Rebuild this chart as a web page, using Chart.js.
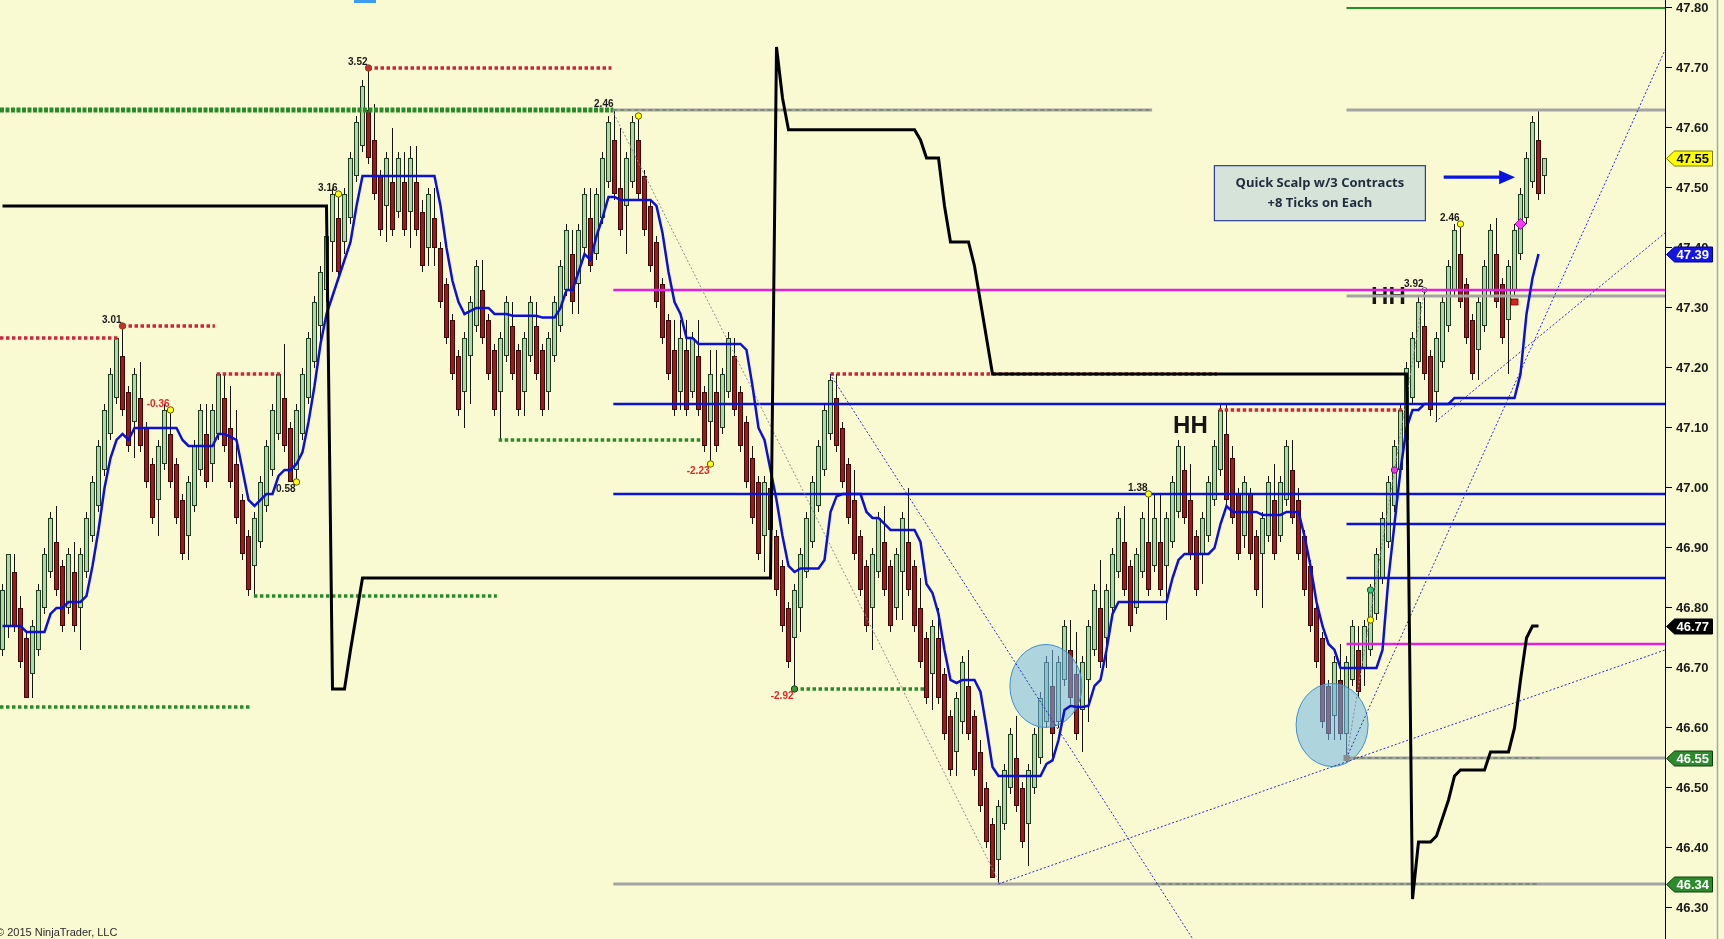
<!DOCTYPE html>
<html>
<head>
<meta charset="utf-8">
<title>Crude chart</title>
<script src="https://cdn.jsdelivr.net/npm/chart.js@4.4.1/dist/chart.umd.min.js"></script>
<style>
html,body{margin:0;padding:0;background:#fafad2;overflow:hidden;}
#wrap{position:relative;width:1724px;height:939px;}
</style>
</head>
<body>
<div id="wrap"><canvas id="chart"></canvas></div>
<script>
// ---------------- DATA (bar index 0..257) ----------------
const opens = [
46.73,46.77,46.86,46.80,46.75,46.69,46.73,46.80,46.86,46.91,
46.87,46.80,46.86,46.80,46.86,46.92,46.97,47.03,47.09,47.15,
47.22,47.16,47.11,47.15,47.10,47.04,46.98,47.04,47.09,47.04,
46.98,46.92,46.97,47.03,47.09,47.04,47.09,47.15,47.10,47.04,
46.98,46.92,46.87,46.91,46.97,47.03,47.09,47.15,47.10,47.03,
47.09,47.15,47.21,47.27,47.33,47.41,47.45,47.41,47.45,47.52,
47.57,47.63,47.58,47.52,47.47,47.51,47.46,47.51,47.46,47.51,
47.46,47.40,47.45,47.40,47.34,47.28,47.22,47.16,47.22,47.27,
47.33,47.28,47.23,47.16,47.22,47.27,47.23,47.16,47.22,47.27,
47.23,47.16,47.22,47.27,47.33,47.39,47.34,47.40,47.45,47.39,
47.45,47.51,47.58,47.50,47.47,47.51,47.58,47.52,47.47,47.41,
47.34,47.28,47.23,47.16,47.23,47.16,47.22,47.16,47.11,47.16,
47.10,47.16,47.22,47.16,47.11,47.05,47.01,46.92,47.00,46.92,
46.87,46.80,46.75,46.80,46.86,46.91,46.97,47.03,47.09,47.15,
47.10,47.04,46.98,46.92,46.87,46.80,46.86,46.91,46.87,46.80,
46.86,46.91,46.87,46.80,46.75,46.69,46.75,46.69,46.62,46.56,
46.61,46.67,46.62,46.56,46.50,46.44,46.38,46.44,46.50,46.55,
46.50,46.44,46.50,46.55,46.61,46.67,46.61,46.68,46.73,46.69,
46.63,46.68,46.73,46.80,46.75,46.80,46.86,46.91,46.87,46.80,
46.86,46.91,46.87,46.91,46.87,46.91,46.96,47.03,46.98,46.92,
46.89,46.92,46.98,47.03,47.09,47.05,46.99,46.92,46.99,46.92,
46.89,46.92,46.98,46.92,46.98,47.03,46.98,46.92,46.87,46.80,
46.75,46.67,46.62,46.68,46.59,46.68,46.73,46.70,46.73,46.79,
46.85,46.91,46.97,47.03,47.08,47.15,47.21,47.27,47.22,47.16,
47.21,47.27,47.33,47.39,47.34,47.28,47.23,47.27,47.33,47.39,
47.34,47.28,47.33,47.39,47.45,47.51,47.58,47.52
];
const highs = [
46.84,46.89,46.89,46.82,46.76,46.78,46.84,46.90,46.96,46.97,
46.88,46.90,46.91,46.90,46.96,47.02,47.08,47.14,47.20,47.25,
47.27,47.17,47.20,47.21,47.11,47.05,47.08,47.14,47.13,47.05,
46.99,47.02,47.08,47.14,47.14,47.14,47.19,47.19,47.17,47.13,
46.99,46.93,46.96,47.02,47.08,47.14,47.19,47.24,47.11,47.14,
47.20,47.26,47.32,47.37,47.43,47.50,47.49,47.50,47.56,47.62,
47.68,47.70,47.64,47.53,47.56,47.60,47.56,47.56,47.57,47.57,
47.48,47.50,47.50,47.41,47.35,47.29,47.23,47.26,47.32,47.38,
47.38,47.29,47.24,47.26,47.32,47.31,47.24,47.26,47.32,47.31,
47.24,47.26,47.32,47.38,47.44,47.43,47.44,47.50,47.50,47.50,
47.56,47.62,47.63,47.60,47.56,47.62,47.62,47.53,47.48,47.42,
47.35,47.29,47.28,47.28,47.28,47.26,47.28,47.17,47.23,47.23,
47.20,47.26,47.25,47.17,47.12,47.07,47.02,47.02,47.01,46.93,
46.88,46.81,46.84,46.90,46.96,47.02,47.08,47.14,47.19,47.19,
47.11,47.05,47.03,46.93,46.88,46.90,46.96,46.97,46.88,46.90,
46.96,47.00,46.88,46.85,46.76,46.78,46.80,46.70,46.63,46.66,
46.72,46.73,46.63,46.58,46.51,46.45,46.48,46.54,46.60,46.62,
46.51,46.54,46.60,46.66,46.72,46.73,46.72,46.78,46.78,46.76,
46.72,46.78,46.84,46.88,46.84,46.90,46.96,46.97,46.88,46.90,
46.96,46.99,46.99,46.99,46.96,47.02,47.08,47.07,47.04,46.93,
46.96,47.02,47.08,47.14,47.14,47.07,47.00,47.02,47.00,46.93,
46.96,47.02,47.04,47.02,47.08,47.08,47.00,46.93,46.88,46.81,
46.76,46.68,46.72,46.74,46.72,46.78,46.77,46.78,46.84,46.90,
46.96,47.02,47.08,47.14,47.21,47.26,47.32,47.33,47.23,47.26,
47.32,47.38,47.44,47.44,47.35,47.29,47.32,47.38,47.44,47.45,
47.35,47.38,47.44,47.50,47.56,47.62,47.63,47.55
];
const lows = [
46.72,46.75,46.76,46.70,46.65,46.65,46.72,46.79,46.85,46.82,
46.76,46.79,46.76,46.73,46.85,46.91,46.96,47.02,47.08,47.14,
47.12,47.06,47.05,47.06,47.00,46.94,46.92,47.03,47.00,46.94,
46.88,46.88,46.96,47.02,47.00,47.01,47.08,47.06,47.00,46.94,
46.88,46.82,46.82,46.90,46.96,47.02,47.08,47.06,47.01,47.01,
47.08,47.14,47.20,47.23,47.31,47.36,47.35,47.39,47.44,47.51,
47.56,47.54,47.48,47.42,47.41,47.42,47.45,47.42,47.40,47.42,
47.36,47.37,47.37,47.30,47.24,47.18,47.12,47.10,47.14,47.26,
47.24,47.18,47.12,47.08,47.21,47.18,47.12,47.12,47.21,47.18,
47.12,47.13,47.21,47.26,47.32,47.29,47.29,47.39,47.36,47.38,
47.44,47.50,47.48,47.42,47.39,47.50,47.48,47.42,47.36,47.30,
47.24,47.18,47.12,47.13,47.12,47.15,47.12,47.06,47.04,47.06,
47.09,47.15,47.12,47.06,47.00,46.94,46.88,46.86,46.92,46.82,
46.76,46.70,46.665,46.76,46.85,46.90,46.96,47.02,47.08,47.06,
47.00,46.94,46.88,46.82,46.76,46.73,46.85,46.82,46.76,46.78,
46.78,46.82,46.76,46.70,46.64,46.63,46.64,46.58,46.52,46.52,
46.59,46.58,46.52,46.46,46.40,46.35,46.34,46.43,46.49,46.46,
46.40,46.37,46.49,46.54,46.60,46.55,46.60,46.67,46.64,46.58,
46.56,46.61,46.72,46.70,46.70,46.79,46.85,46.82,46.76,46.79,
46.85,46.82,46.86,46.82,46.78,46.90,46.95,46.94,46.88,46.82,
46.84,46.91,46.97,47.02,46.97,46.94,46.88,46.90,46.88,46.82,
46.80,46.91,46.88,46.91,46.97,46.94,46.88,46.82,46.76,46.70,
46.60,46.58,46.58,46.58,46.55,46.67,46.65,46.67,46.72,46.78,
46.84,46.90,46.96,47.02,47.07,47.14,47.20,47.18,47.12,47.11,
47.20,47.26,47.32,47.30,47.24,47.18,47.18,47.26,47.32,47.30,
47.24,47.19,47.32,47.38,47.44,47.50,47.48,47.49
];
const closes = [
46.83,46.89,46.77,46.71,46.65,46.77,46.83,46.89,46.95,46.83,
46.77,46.89,46.77,46.89,46.95,47.01,47.07,47.13,47.19,47.25,
47.13,47.07,47.19,47.07,47.01,46.95,47.07,47.13,47.01,46.95,
46.89,47.01,47.07,47.13,47.01,47.13,47.19,47.07,47.01,46.95,
46.89,46.83,46.95,47.01,47.07,47.13,47.19,47.07,47.01,47.13,
47.19,47.25,47.31,47.36,47.42,47.49,47.36,47.49,47.55,47.61,
47.67,47.55,47.49,47.43,47.55,47.43,47.55,47.43,47.55,47.43,
47.37,47.49,47.40,47.31,47.25,47.19,47.13,47.25,47.31,47.37,
47.25,47.19,47.13,47.25,47.31,47.19,47.13,47.25,47.31,47.19,
47.13,47.25,47.31,47.37,47.43,47.31,47.43,47.49,47.37,47.49,
47.55,47.61,47.49,47.43,47.55,47.61,47.49,47.43,47.37,47.31,
47.25,47.19,47.13,47.25,47.13,47.25,47.13,47.07,47.19,47.07,
47.19,47.25,47.13,47.07,47.01,46.95,46.89,47.01,46.93,46.83,
46.77,46.71,46.83,46.89,46.95,47.01,47.07,47.13,47.18,47.07,
47.01,46.95,46.89,46.83,46.77,46.89,46.95,46.83,46.77,46.89,
46.95,46.83,46.77,46.71,46.65,46.77,46.65,46.59,46.53,46.65,
46.71,46.59,46.53,46.47,46.41,46.35,46.47,46.53,46.59,46.47,
46.41,46.53,46.59,46.65,46.71,46.59,46.71,46.77,46.65,46.59,
46.71,46.77,46.83,46.71,46.83,46.89,46.95,46.83,46.77,46.89,
46.95,46.83,46.95,46.83,46.95,47.01,47.07,46.95,46.89,46.83,
46.95,47.01,47.07,47.13,46.98,46.95,46.89,47.01,46.89,46.83,
46.95,47.01,46.89,47.01,47.07,46.95,46.89,46.83,46.77,46.71,
46.61,46.59,46.71,46.59,46.71,46.77,46.66,46.77,46.83,46.89,
46.95,47.01,47.07,47.13,47.20,47.25,47.31,47.19,47.13,47.25,
47.31,47.37,47.43,47.31,47.25,47.19,47.31,47.37,47.43,47.31,
47.25,47.37,47.43,47.49,47.55,47.61,47.49,47.55
];
// blue moving average (bar 0..256)
const blueAvg = [
46.77,46.77,46.77,46.77,46.76,46.76,46.76,46.76,46.79,46.80,
46.80,46.81,46.81,46.81,46.82,46.87,46.93,47.00,47.05,47.08,
47.09,47.08,47.10,47.10,47.10,47.10,47.10,47.10,47.10,47.10,
47.08,47.07,47.07,47.07,47.07,47.07,47.09,47.09,47.085,47.08,
47.03,46.98,46.97,46.98,46.99,46.99,47.02,47.03,47.03,47.04,
47.06,47.11,47.17,47.24,47.29,47.32,47.35,47.38,47.41,47.47,
47.52,47.52,47.52,47.52,47.52,47.52,47.52,47.52,47.52,47.52,
47.52,47.52,47.52,47.47,47.40,47.345,47.31,47.29,47.295,47.30,
47.30,47.30,47.29,47.29,47.29,47.287,47.287,47.287,47.287,47.287,
47.284,47.284,47.284,47.30,47.33,47.33,47.36,47.39,47.38,47.42,
47.45,47.485,47.485,47.48,47.48,47.48,47.48,47.48,47.48,47.47,
47.425,47.36,47.31,47.29,47.25,47.25,47.24,47.24,47.24,47.24,
47.24,47.24,47.24,47.24,47.23,47.17,47.10,47.08,47.03,46.98,
46.92,46.87,46.86,46.866,46.866,46.866,46.866,46.88,46.96,46.986,
46.99,46.99,46.99,46.99,46.96,46.95,46.95,46.94,46.93,46.93,
46.93,46.93,46.93,46.91,46.84,46.825,46.79,46.73,46.68,46.675,
46.68,46.68,46.68,46.66,46.60,46.535,46.52,46.52,46.52,46.52,
46.52,46.52,46.52,46.52,46.54,46.546,46.58,46.63,46.637,46.635,
46.635,46.637,46.67,46.68,46.73,46.79,46.81,46.81,46.81,46.81,
46.81,46.81,46.81,46.81,46.81,46.85,46.88,46.89,46.89,46.89,
46.89,46.89,46.90,46.94,46.97,46.96,46.96,46.96,46.96,46.96,
46.955,46.955,46.955,46.955,46.96,46.96,46.96,46.92,46.87,46.81,
46.77,46.74,46.73,46.70,46.70,46.70,46.70,46.70,46.70,46.70,
46.73,46.85,46.94,47.03,47.10,47.13,47.13,47.14,47.14,47.14,
47.14,47.14,47.15,47.15,47.15,47.15,47.15,47.15,47.15,47.15,
47.15,47.15,47.15,47.19,47.29,47.35,47.39
];
// black step indicator (bar 0..256)
const blackLine = [
47.47,47.47,47.47,47.47,47.47,47.47,47.47,47.47,47.47,47.47,
47.47,47.47,47.47,47.47,47.47,47.47,47.47,47.47,47.47,47.47,
47.47,47.47,47.47,47.47,47.47,47.47,47.47,47.47,47.47,47.47,
47.47,47.47,47.47,47.47,47.47,47.47,47.47,47.47,47.47,47.47,
47.47,47.47,47.47,47.47,47.47,47.47,47.47,47.47,47.47,47.47,
47.47,47.47,47.47,47.47,47.47,46.665,46.665,46.665,46.73,46.79,
46.85,46.85,46.85,46.85,46.85,46.85,46.85,46.85,46.85,46.85,
46.85,46.85,46.85,46.85,46.85,46.85,46.85,46.85,46.85,46.85,
46.85,46.85,46.85,46.85,46.85,46.85,46.85,46.85,46.85,46.85,
46.85,46.85,46.85,46.85,46.85,46.85,46.85,46.85,46.85,46.85,
46.85,46.85,46.85,46.85,46.85,46.85,46.85,46.85,46.85,46.85,
46.85,46.85,46.85,46.85,46.85,46.85,46.85,46.85,46.85,46.85,
46.85,46.85,46.85,46.85,46.85,46.85,46.85,46.85,46.85,47.735,
47.65,47.597,47.597,47.597,47.597,47.597,47.597,47.597,47.597,47.597,
47.597,47.597,47.597,47.597,47.597,47.597,47.597,47.597,47.597,47.597,
47.597,47.597,47.597,47.58,47.55,47.55,47.55,47.47,47.41,47.41,
47.41,47.41,47.37,47.31,47.25,47.19,47.19,47.19,47.19,47.19,
47.19,47.19,47.19,47.19,47.19,47.19,47.19,47.19,47.19,47.19,
47.19,47.19,47.19,47.19,47.19,47.19,47.19,47.19,47.19,47.19,
47.19,47.19,47.19,47.19,47.19,47.19,47.19,47.19,47.19,47.19,
47.19,47.19,47.19,47.19,47.19,47.19,47.19,47.19,47.19,47.19,
47.19,47.19,47.19,47.19,47.19,47.19,47.19,47.19,47.19,47.19,
47.19,47.19,47.19,47.19,47.19,47.19,47.19,47.19,47.19,47.19,
47.19,47.19,47.19,47.19,47.19,46.315,46.41,46.41,46.41,46.42,
46.45,46.48,46.52,46.53,46.53,46.53,46.53,46.53,46.56,46.56,
46.56,46.56,46.60,46.68,46.75,46.77,46.77
];
// price axis ticks
const tickValues = [47.80,47.70,47.60,47.50,47.40,47.30,47.20,47.10,47.00,46.90,46.80,46.70,46.60,46.50,46.40,46.30];
// price tags on the axis
const tagValues = [47.55, 47.39, 46.77, 46.55, 46.34];

// horizontal levels (price, from bar, to bar; null = right edge)
const blueLevelPrice = [47.14, 46.99, 46.94, 46.85];
const blueLevelFrom  = [101.8, 101.8, 224, 224];
const magentaLevelPrice = [47.33, 46.74];
const magentaLevelFrom  = [101.8, 224];
const grayLevelPrice = [47.63, 47.63, 47.32, 46.55, 46.34];
const grayLevelFrom  = [101.8, 224, 224, 224, 101.8];
const grayLevelTo    = [191.6, null, null, null, null];
const greenSolidPrice = [47.80];
const greenSolidFrom  = [224];
const redDotPrice = [47.25, 47.27, 47.19, 47.70, 47.19, 47.13];
const redDotFrom  = [-0.42, 20, 35.7, 61, 138, 202.7];
const redDotTo    = [19.2, 35.4, 46.4, 101.5, 202.4, 233.4];
const greenDotPrice = [47.08, 46.82, 46.635, 46.665];
const greenDotFrom  = [82.7, 41.9, -0.42, 132];
const greenDotTo    = [116.6, 82.4, 41.4, 153.7];
const greenHeavyPrice = [47.63];
const greenHeavyFrom  = [-0.42];
const greenHeavyTo    = [101.8];
const dashOverPrice = [47.63, 46.55, 46.34];
const dashOverFrom  = [101.8, 224, 192];
const dashOverTo    = [191.6, 256.2, 256.2];

// thin trend lines (from bar, from price, to bar, to price)
const trendFromIdx   = [137.9, 166, 224, 238.8, 101.6, 224];
const trendFromPrice = [47.19, 46.34, 46.55, 47.11, 47.63, 46.55];
const trendToIdx     = [198.4, 277.08, 277.08, 277.08, 165.9, 237];
const trendToPrice   = [46.248, 46.73, 47.73, 47.425, 46.347, 47.33];
const trendKind      = ['blue','blue','blue','blue','gray','gray'];

// swing markers
const swingIdx   = [20, 28, 49, 56, 61, 102, 106, 118, 132, 191, 243, 237];
const swingPrice = [47.27, 47.13, 47.01, 47.49, 47.70, 47.63, 47.62, 47.04, 46.665, 46.99, 47.44, 47.33];
const swingText  = ['3.01','-0.36','0.58','3.16','3.52','2.46','','-2.23','-2.92','1.38','2.46','3.92'];
const swingKind  = ['red','yellow','yellow','yellow','red','none','yellow','yellow','green','yellow','yellow','white'];
const swingSide  = ['up','up','down','up','up','up','up','down','down','up','up','up'];
// other signal markers
const sigIdx   = [228, 228, 232, 253, 252, 224];
const sigPrice = [46.83, 46.78, 47.03, 47.44, 47.31, 46.55];
const sigKind  = ['teal','yellow','magenta','diamond','square','graysq'];
// "HH" labels
const hhIdx = [195.1, 228.1];
const hhPrice = [47.102, 47.318];
// highlighted zones (ellipses)
const zoneIdx = [173.9, 221.6];
const zonePrice = [46.67, 46.605];
// note
const noteIdx = 201.9, notePrice = 47.538;
const noteLines = ['Quick Scalp w/3 Contracts', '+8 Ticks on Each'];
const arrowFrom = 240.2, arrowTo = 252.1, arrowPrice = 47.518;

// ---------------- CHART ----------------
const BG = '#fafad2';
const XMIN = -2.5/6, XMAX = (1665-2.5)/6;
const YMAX = 47.8133, YMIN = 47.8133 - 939/600;
const FONT = "'Liberation Sans', Arial, sans-serif";

const idx = opens.map((_, i) => i);
const isUp = i => closes[i] >= opens[i];

function levels(prices, from, to, st) {
  return prices.map((p, k) => ({
    type: 'line',
    data: [{x: from[k], y: p}, {x: (to && to[k] != null) ? to[k] : XMAX, y: p}],
    borderColor: st.color, borderWidth: st.width, borderDash: st.dash || [],
    borderCapStyle: 'butt', pointRadius: 0, tension: 0, fill: false, order: st.order
  }));
}

const datasets = [];
datasets.push({
  type: 'bar', label: 'wicks',
  data: idx.map(i => ({x: i, y: [lows[i], highs[i]]})),
  backgroundColor: '#141414', borderWidth: 0, barThickness: 1,
  grouped: false, inflateAmount: 0, order: 60
});
datasets.push({
  type: 'bar', label: 'bodies',
  data: idx.map(i => ({x: i, y: [opens[i], closes[i]]})),
  backgroundColor: idx.map(i => isUp(i) ? '#b2d6a6' : '#9c1a1a'),
  borderColor: idx.map(i => isUp(i) ? '#1f3d1f' : '#3c0808'),
  borderWidth: 1, borderSkipped: false, barThickness: 5,
  grouped: false, inflateAmount: 0, order: 50
});
datasets.push(...levels(grayLevelPrice, grayLevelFrom, grayLevelTo, {color:'#a3a3a3', width:3, order:35}));
datasets.push(...levels(dashOverPrice, dashOverFrom, dashOverTo, {color:'#4f7a3c', width:1, dash:[4,3], order:34}));
datasets.push(...levels(greenSolidPrice, greenSolidFrom, null, {color:'#23902a', width:2, order:33}));
datasets.push(...levels(greenHeavyPrice, greenHeavyFrom, greenHeavyTo, {color:'#2a8a2a', width:5, dash:[4,1.5], order:33}));
datasets.push(...levels(redDotPrice, redDotFrom, redDotTo, {color:'#c8283a', width:3.5, dash:[3.5,2.5], order:33}));
datasets.push(...levels(greenDotPrice, greenDotFrom, greenDotTo, {color:'#2a8a2a', width:3.5, dash:[3.5,2.5], order:33}));
datasets.push(...levels(magentaLevelPrice, magentaLevelFrom, null, {color:'#e41ee4', width:2.5, order:32}));
datasets.push(...levels(blueLevelPrice, blueLevelFrom, null, {color:'#0a12d8', width:2.5, order:31}));
trendFromIdx.forEach((f, k) => {
  datasets.push({
    type: 'line',
    data: [{x: f, y: trendFromPrice[k]}, {x: trendToIdx[k], y: trendToPrice[k]}],
    borderColor: trendKind[k] === 'blue' ? '#2b2bc8' : '#8c8c8c',
    borderWidth: 1, borderDash: [2, 2], pointRadius: 0, tension: 0, fill: false, order: 25
  });
});
datasets.push({
  type: 'line', label: 'avg',
  data: blueAvg.map((v, i) => ({x: i, y: v})),
  borderColor: '#0c10d6', borderWidth: 2.5, pointRadius: 0, tension: 0, fill: false, order: 20
});
datasets.push({
  type: 'line', label: 'black',
  data: blackLine.map((v, i) => ({x: i, y: v})),
  borderColor: '#000000', borderWidth: 3, pointRadius: 0, tension: 0, fill: false, order: 10,
  borderJoinStyle: 'miter'
});

function drawDot(c, x, y, r, fill, stroke) {
  c.beginPath(); c.arc(x, y, r, 0, Math.PI * 2);
  c.fillStyle = fill; c.fill();
  c.lineWidth = 1; c.strokeStyle = stroke; c.stroke();
}
function drawSwing(chart, k) {
  const c = chart.ctx, X = chart.scales.x, Y = chart.scales.y;
  const x = X.getPixelForValue(swingIdx[k]), y = Y.getPixelForValue(swingPrice[k]);
  const kind = swingKind[k];
  if (kind === 'red') drawDot(c, x, y, 3.2, '#c83030', '#8a4a10');
  else if (kind === 'yellow') drawDot(c, x, y, 3.2, '#ffff10', '#5a5a00');
  else if (kind === 'green') drawDot(c, x, y, 3.2, '#3a9a3a', '#1a3a1a');
  else if (kind === 'white') drawDot(c, x, y, 2.5, '#ffffff', '#555555');
  const t = swingText[k];
  if (!t) return;
  c.font = 'bold 10px ' + FONT;
  c.fillStyle = t.charAt(0) === '-' ? '#e02626' : '#1a1a1a';
  c.textAlign = 'right'; c.textBaseline = 'middle';
  c.fillText(t, x - 1, swingSide[k] === 'up' ? y - 6 : y + 7);
}

const overlay = {
  id: 'overlay',
  beforeDraw(chart) {
    const c = chart.ctx; c.save(); c.fillStyle = BG; c.fillRect(0, 0, chart.width, chart.height); c.restore();
  },
  beforeDatasetsDraw(chart) {
    const c = chart.ctx, X = chart.scales.x, Y = chart.scales.y;
    c.save();
    c.font = 'bold 24px ' + FONT; c.fillStyle = '#151515';
    c.textAlign = 'left'; c.textBaseline = 'middle';
    hhIdx.forEach((v, k) => c.fillText('HH', X.getPixelForValue(v), Y.getPixelForValue(hhPrice[k])));
    swingKind.forEach((kd, k) => { if (kd === 'white') drawSwing(chart, k); });
    c.restore();
  },
  afterDatasetDraw(chart, args) {
    if (chart.data.datasets[args.index].label !== 'bodies') return;
    const c = chart.ctx, X = chart.scales.x, Y = chart.scales.y;
    c.save();
    zoneIdx.forEach((v, k) => {
      const x = X.getPixelForValue(v), y = Y.getPixelForValue(zonePrice[k]);
      c.beginPath(); c.ellipse(x, y, 36, 41.5, 0, 0, Math.PI * 2);
      c.fillStyle = 'rgba(112,180,232,0.55)'; c.fill();
      c.lineWidth = 1; c.strokeStyle = '#3d8fd2'; c.stroke();
    });
    c.restore();
  },
  afterDatasetsDraw(chart) {
    const c = chart.ctx, X = chart.scales.x, Y = chart.scales.y;
    c.save();
    swingKind.forEach((kd, k) => { if (kd !== 'white') drawSwing(chart, k); });
    sigIdx.forEach((v, k) => {
      const x = X.getPixelForValue(v), y = Y.getPixelForValue(sigPrice[k]);
      const kd = sigKind[k];
      if (kd === 'teal') drawDot(c, x, y, 3.2, '#3cc07a', '#1a5a3a');
      else if (kd === 'yellow') drawDot(c, x, y, 3.2, '#ffff10', '#5a5a00');
      else if (kd === 'magenta') drawDot(c, x, y, 3.2, '#e43ce4', '#7a107a');
      else if (kd === 'diamond') {
        c.beginPath(); c.moveTo(x, y - 5.5); c.lineTo(x + 5.5, y); c.lineTo(x, y + 5.5); c.lineTo(x - 5.5, y); c.closePath();
        c.fillStyle = '#ff36ff'; c.fill(); c.strokeStyle = '#9a109a'; c.lineWidth = 1; c.stroke();
      } else if (kd === 'square') {
        c.fillStyle = '#e01e1e'; c.fillRect(x - 3.5, y - 3, 7, 6);
        c.strokeStyle = '#700'; c.lineWidth = 0.8; c.strokeRect(x - 3.5, y - 3, 7, 6);
      } else if (kd === 'graysq') {
        c.fillStyle = '#8a8a8a'; c.fillRect(x - 3, y - 3, 6, 6);
      }
    });
    // note box
    const nx = X.getPixelForValue(noteIdx), ny = Y.getPixelForValue(notePrice);
    c.fillStyle = '#d5e3d9'; c.fillRect(nx, ny, 211, 55);
    c.strokeStyle = '#2c3c98'; c.lineWidth = 1.2; c.strokeRect(nx + 0.5, ny + 0.5, 211, 55);
    c.fillStyle = '#1e2c3c'; c.font = 'bold 13px ' + "'Open Sans', " + FONT;
    c.textAlign = 'center'; c.textBaseline = 'middle';
    c.fillText(noteLines[0], nx + 106, ny + 18);
    c.fillText(noteLines[1], nx + 106, ny + 38);
    // arrow
    const ax1 = X.getPixelForValue(arrowFrom), ax2 = X.getPixelForValue(arrowTo), ay = Y.getPixelForValue(arrowPrice);
    c.strokeStyle = '#0a14e0'; c.lineWidth = 3.2;
    c.beginPath(); c.moveTo(ax1, ay); c.lineTo(ax2 - 12, ay); c.stroke();
    c.fillStyle = '#0a14e0';
    c.beginPath(); c.moveTo(ax2 - 16, ay - 7); c.lineTo(ax2, ay); c.lineTo(ax2 - 16, ay + 7); c.closePath(); c.fill();
    c.restore();
  },
  afterDraw(chart) {
    const c = chart.ctx, Y = chart.scales.y, A = chart.chartArea;
    c.save();
    // right frame line
    c.strokeStyle = '#a6a6a6'; c.lineWidth = 1.5;
    c.beginPath(); c.moveTo(1717.5, 0); c.lineTo(1717.5, chart.height); c.stroke();
    // price tags
    const fills = ['#ffff00', '#1414e6', '#000000', '#2d8a2d', '#2d8a2d'];
    const texts = ['#000000', '#ffffff', '#ffffff', '#ffffff', '#ffffff'];
    const edges = ['#7a7a00', '#000080', '#000000', '#0f3f0f', '#0f3f0f'];
    tagValues.forEach((v, k) => {
      const y = Math.round(Y.getPixelForValue(v)) + 0.5, x0 = A.right + 1.5;
      c.beginPath(); c.moveTo(x0, y); c.lineTo(x0 + 8, y - 7.5); c.lineTo(x0 + 46, y - 7.5);
      c.lineTo(x0 + 46, y + 7.5); c.lineTo(x0 + 8, y + 7.5); c.closePath();
      c.fillStyle = fills[k]; c.fill(); c.strokeStyle = edges[k]; c.lineWidth = 1; c.stroke();
      c.fillStyle = texts[k]; c.font = 'bold 13px ' + FONT; c.textAlign = 'left'; c.textBaseline = 'middle';
      c.fillText(v.toFixed(2), x0 + 10, y + 0.5);
    });
    // copyright
    c.fillStyle = '#2a2a2a'; c.font = '11px ' + FONT; c.textAlign = 'left'; c.textBaseline = 'alphabetic';
    c.fillText('\u00A9 2015 NinjaTrader, LLC', -4, 936);
    // small top marker
    c.fillStyle = '#3d9cf0'; c.fillRect(354, 0, 22, 3);
    c.restore();
  }
};

new Chart(document.getElementById('chart'), {
  type: 'bar',
  data: { datasets },
  options: {
    responsive: true, maintainAspectRatio: false, animation: false, devicePixelRatio: 1,
    events: [],
    layout: { padding: 0 },
    plugins: { legend: { display: false }, tooltip: { enabled: false } },
    scales: {
      x: { type: 'linear', display: false, min: XMIN, max: XMAX, offset: false },
      y: {
        type: 'linear', position: 'right', min: YMIN, max: YMAX,
        afterBuildTicks: s => { s.ticks = tickValues.map(v => ({ value: v })); },
        afterFit: s => { s.width = 59; s.paddingTop = 0; s.paddingBottom = 0; },
        grid: { drawOnChartArea: false, drawTicks: true, tickLength: 7, color: '#000', tickWidth: 1 },
        border: { display: true, color: '#000', width: 1 },
        ticks: {
          color: '#1a1a1a', padding: 4, autoSkip: false,
          font: { family: FONT, size: 13, weight: 'bold' },
          callback: v => Number(v).toFixed(2)
        }
      }
    }
  },
  plugins: [overlay]
});
</script>
</body>
</html>
